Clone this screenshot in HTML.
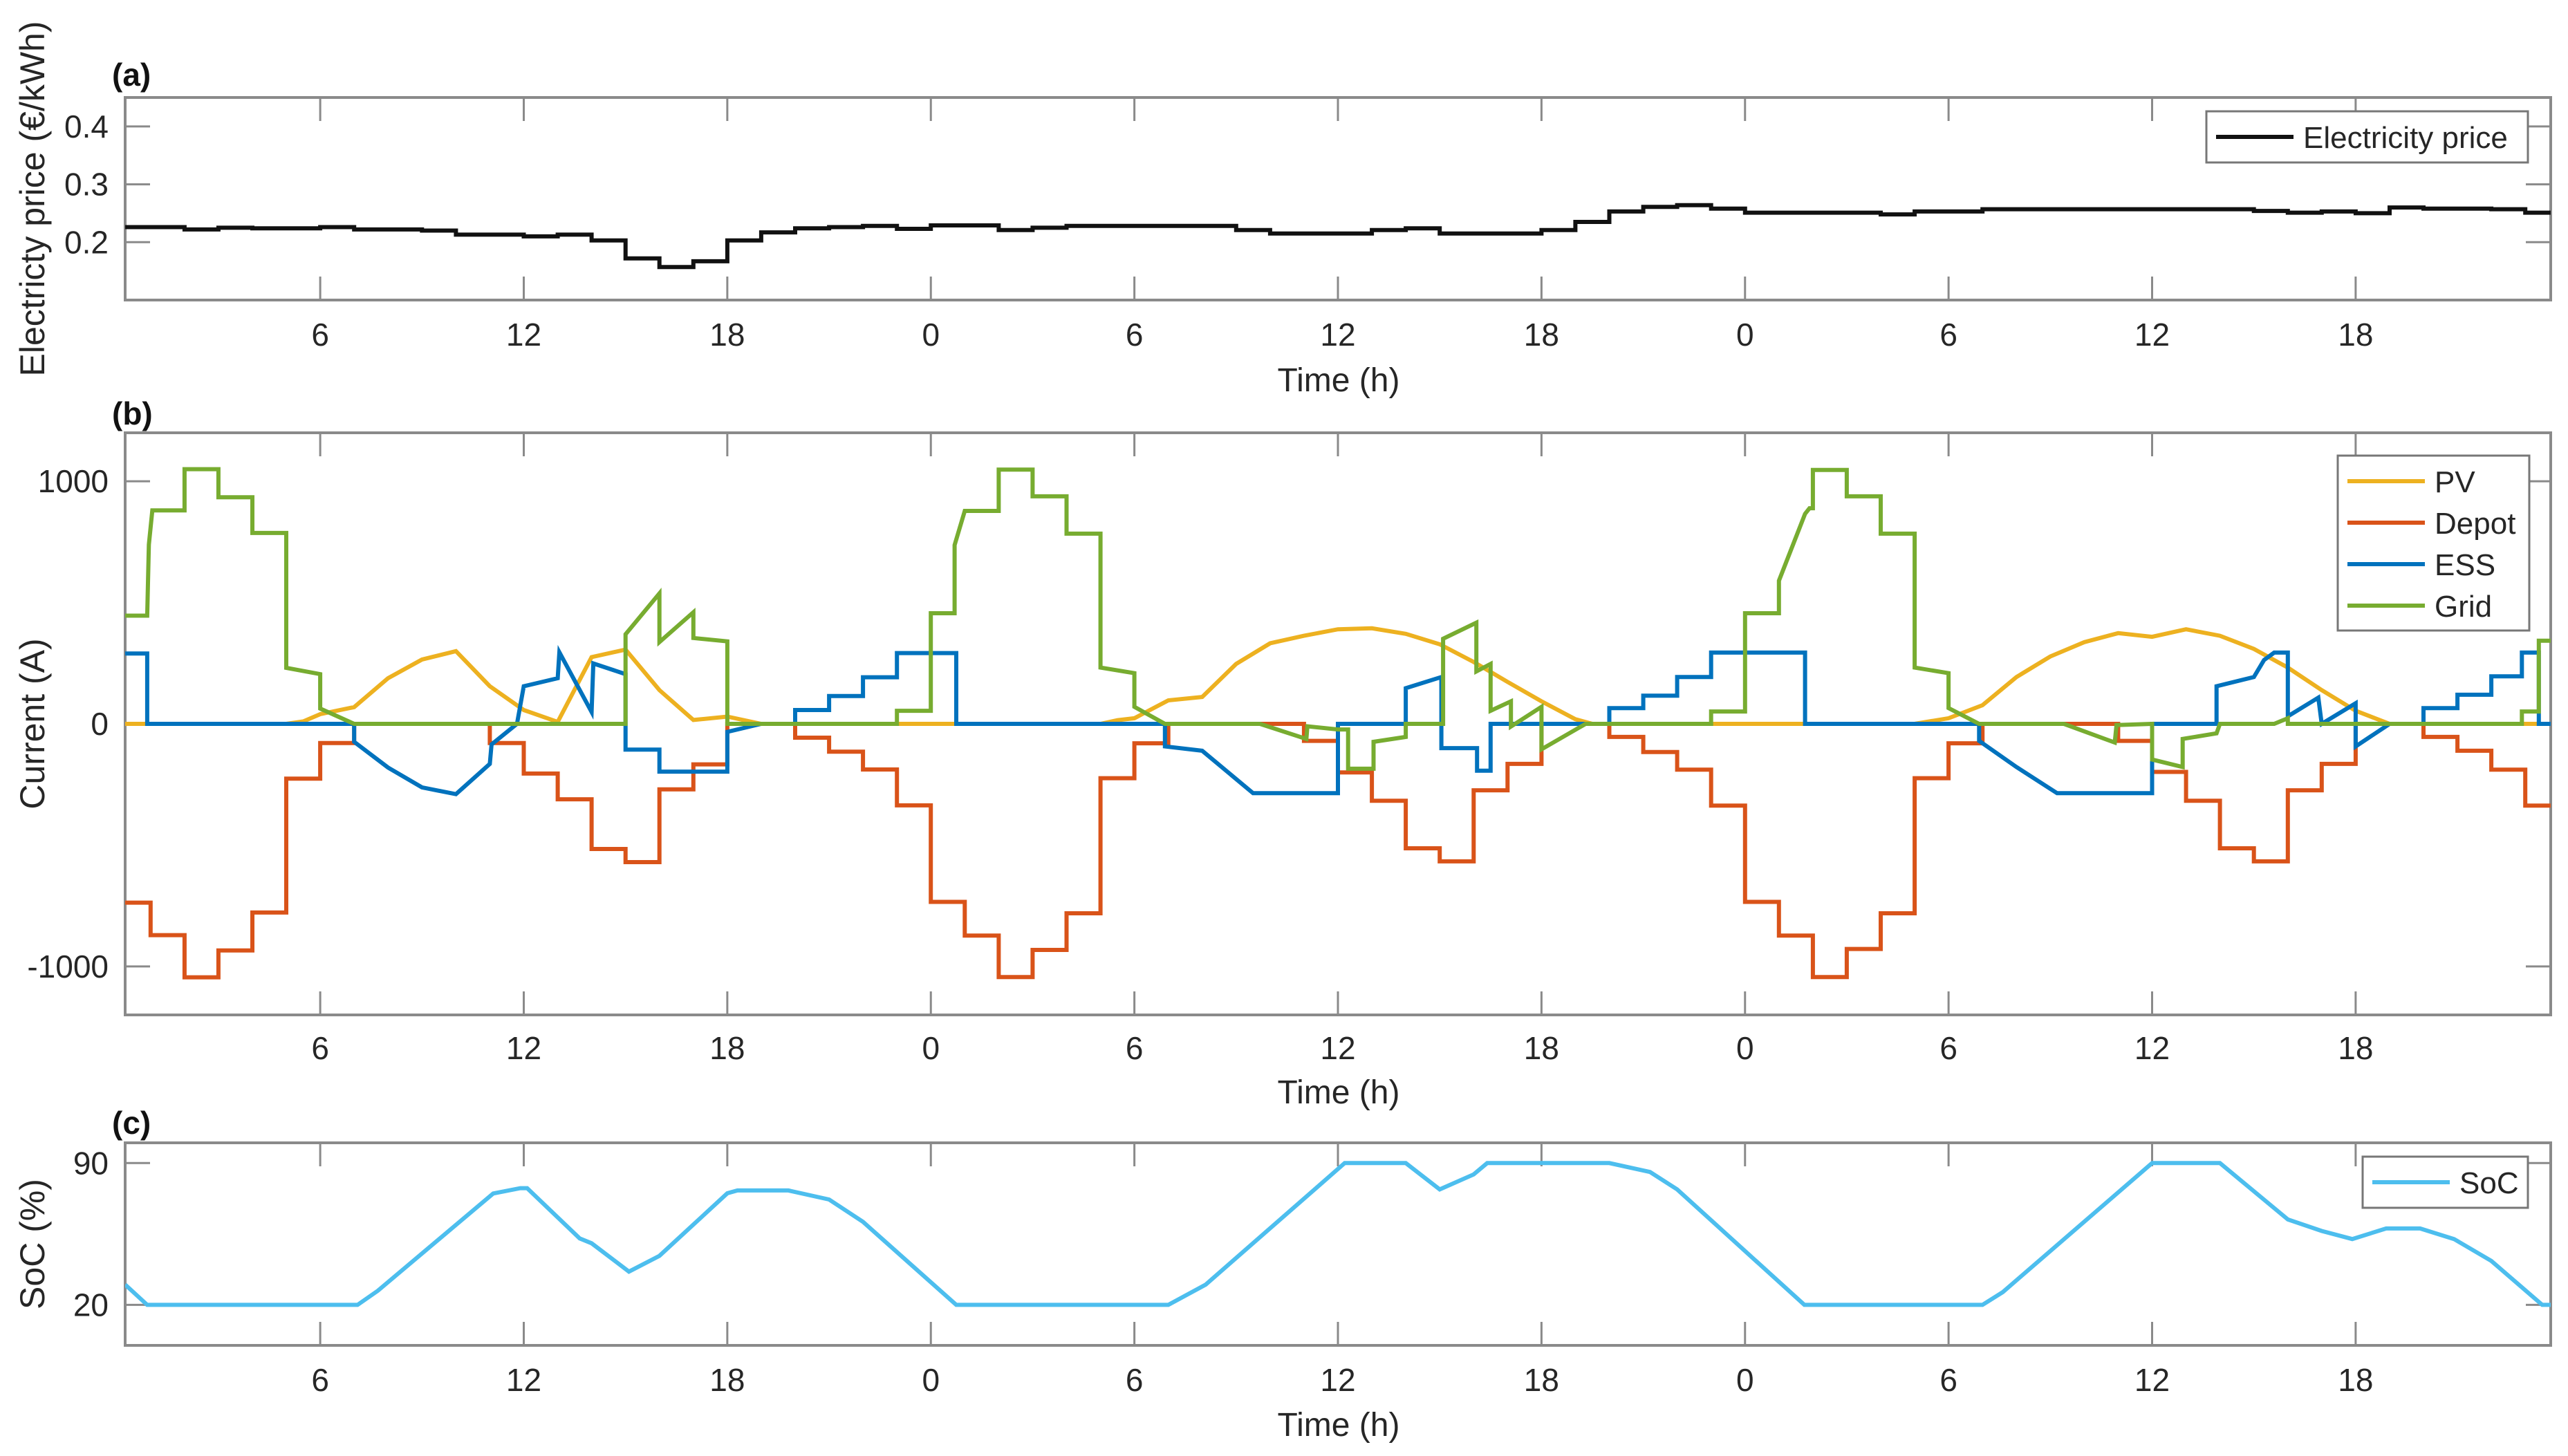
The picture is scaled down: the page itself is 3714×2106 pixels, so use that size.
<!DOCTYPE html>
<html><head><meta charset="utf-8">
<style>
html,body{margin:0;padding:0;background:#fff;}
svg{display:block;font-family:"Liberation Sans",Arial,sans-serif;}
</style></head>
<body>
<svg id="fig" xmlns="http://www.w3.org/2000/svg" width="3714" height="2106" viewBox="0 0 3714 2106"></svg>
<script>
// ---- data ----
const xTickHours = [6,12,18,24,30,36,42,48,54,60,66];
const xTickLabels = ['6','12','18','0','6','12','18','0','6','12','18'];
const priceTicks = [0.2,0.3,0.4];
const currentTicks = [-1000,0,1000];
const socTicks = [20,90];
// hourly electricity price (h0..h71)
const priceValues = [0.226,0.226,0.222,0.225,0.224,0.224,0.226,0.222,0.222,0.220,0.213,0.213,0.210,0.213,0.203,0.172,0.157,0.167,0.203,0.217,0.224,0.226,0.228,0.223,
0.229,0.229,0.221,0.225,0.228,0.228,0.228,0.228,0.228,0.221,0.215,0.215,0.215,0.221,0.224,0.215,0.215,0.215,0.221,0.235,0.253,0.261,0.264,0.258,
0.251,0.251,0.251,0.251,0.248,0.253,0.253,0.257,0.257,0.257,0.257,0.257,0.257,0.257,0.257,0.254,0.251,0.253,0.250,0.260,0.258,0.258,0.257,0.251];
// hourly depot current
const depotValues = [-737,-871,-1045,-934,-778,-226,-79,0,0,0,0,-79,-205,-311,-516,-570,-270,-167,0,0,-57,-115,-188,-336,
-734,-873,-1044,-932,-781,-224,-80,0,0,0,0,-70,-200,-317,-513,-567,-274,-165,0,0,-54,-116,-189,-337,
-734,-873,-1044,-928,-781,-224,-80,0,0,0,0,-70,-198,-317,-513,-567,-274,-165,0,0,-54,-111,-189,-337];
const pvHours = [0.25,5,5.5,6,7,8,9,10,11,12,13,14,15,16,17,18,19,29,29.5,30,31,32,33,34,35,36,37,38,39,40,41,42,43,43.5,53,54,55,56,57,58,59,60,61,62,63,64,65,66,67,71.75];
const pvValues = [0,0,10,40,69,188,265,300,155,57,8,275,306,139,16,30,0,0,15,23,97,111,247,332,363,390,394,371,328,255,173,93,19,0,0,23,77,193,278,337,374,359,390,363,309,232,139,54,0,0];
const essHours = [0.25,0.9,0.9,7,7,8,9,10,11,11.05,11.8,12,13,13.05,14,14.05,15,15,16,16,18,18,19,20,20,21,21,22,22,23,23,24.75,24.75,30.9,30.9,32,33.5,36,36,38,38,39.05,39.05,40.1,40.1,40.5,40.5,44,44,45,45,46,46,47,47,49.77,49.77,54.9,54.9,56,57.2,60,60,61.9,61.9,63,63.3,63.6,64,64,64.9,65,66,66,67,68,68,69,69,70,70,70.9,70.9,71.4,71.4,71.75];
const essValues = [290,290,0,0,-74,-180,-262,-290,-165,-85,0,155,188,295,49,249,205,-106,-106,-197,-197,-33,0,0,57,57,115,115,192,192,292,292,0,0,-93,-111,-286,-286,0,0,147,193,-100,-100,-193,-193,0,0,65,65,116,116,193,193,294,294,0,0,-70,-178,-286,-286,0,0,155,193,263,294,294,31,108,0,85,-93,0,0,65,65,120,120,196,196,294,294,0,0];
const gridHours = [0.25,0.9,0.95,1.05,2,2,3,3,4,4,5,5,6,6,7,15,15,16,16,17,17,18,18,23,23,24,24,24.7,24.7,25,26,26,27,27,28,28,29,29,30,30,30.9,33.7,35.07,35.1,36,36.3,36.3,37.05,37.05,38,38,39.1,39.1,40.08,40.08,40.5,40.5,41.1,41.1,42,42,43.3,47,47,48,48,49,49,49.77,49.9,50,50,51,51,52,52,53,53,54,54,54.9,57.4,58.9,58.95,60,60,60.9,60.9,61.9,62,63.6,64,64,70.9,70.9,71.4,71.4,71.75];
const gridValues = [446,446,739,880,880,1050,1050,934,934,787,787,231,205,63,0,0,369,538,337,460,354,340,0,0,54,54,456,456,737,878,878,1048,1048,938,938,784,784,232,209,70,0,0,-62,-10,-23,-23,-185,-185,-74,-54,0,0,351,417,216,247,54,93,-11,70,-105,0,0,51,51,456,456,590,866,889,889,1047,1047,938,938,784,784,232,209,65,0,0,-77,-5,0,-147,-178,-62,-39,0,0,23,0,0,51,51,343,343];
const socHours = [0.25,0.9,7.1,7.7,11.1,11.9,12.1,13.65,14,15.1,16,18,18.3,19.8,21,22,24.75,31,32.1,36.2,38,39,40,40.4,44,45.2,46,49.75,55,55.6,60,62,64,65,65.9,66.9,67.9,68.9,70,71.5,71.75];
const socValues = [30,20,20,27,75,77.6,77.6,52.8,50.4,36.4,44.2,75.1,76.5,76.5,72,61,20,20,30,90,90,77,84.4,90,90,85.6,77,20,20,26.3,90,90,62.2,56.5,52.5,57.7,57.7,52.5,41.7,20,20];

// ---- layout ----
const NS='http://www.w3.org/2000/svg';
const svg=document.getElementById('fig');
const X0=181,X1=3689,HMIN=0.25,HMAX=71.75;
function xs(h){return X0+(h-HMIN)/(HMAX-HMIN)*(X1-X0);}
function mkY(top,bot,vmin,vmax){return v=>bot-(v-vmin)/(vmax-vmin)*(bot-top);}
const AX='#8a8a8a',TXT='#262626';
function el(tag,attrs,parent){const e=document.createElementNS(NS,tag);for(const k in attrs)e.setAttribute(k,attrs[k]);(parent||svg).appendChild(e);return e;}
function txt(s,x,y,size,anchor,extra){const t=el('text',Object.assign({x:x,y:y,'font-size':size,'text-anchor':anchor||'middle',fill:TXT},extra||{}));t.textContent=s;return t;}

const panels=[
 {id:'a',top:141,bot:434,vmin:0.1,vmax:0.45,ticks:priceTicks,fmt:v=>v.toFixed(1),ylabel:'Electricty price (€/kWh)',plabY:124,tickY:500,timeY:566},
 {id:'b',top:626,bot:1468,vmin:-1200,vmax:1200,ticks:currentTicks,fmt:v=>String(v),ylabel:'Current (A)',plabY:614,tickY:1532,timeY:1596},
 {id:'c',top:1653,bot:1946,vmin:0,vmax:100,ticks:socTicks,fmt:v=>String(v),ylabel:'SoC (%)',plabY:1640,tickY:2012,timeY:2077}
];
panels.forEach(p=>{
  p.ys=mkY(p.top,p.bot,p.vmin,p.vmax);
  const g=el('g',{});
  
  
  p.g=g;
  const cp=el('clipPath',{id:'clip-'+p.id},g);
  el('rect',{x:X0,y:p.top,width:X1-X0,height:p.bot-p.top},cp);
  xTickHours.forEach((h,i)=>{
    const x=xs(h);
    const t1=el('line',{x1:x,x2:x,y1:p.bot,y2:p.bot-34,stroke:AX,'stroke-width':3},g);
    
    
    const t2=el('line',{x1:x,x2:x,y1:p.top,y2:p.top+34,stroke:AX,'stroke-width':3},g);
    
    
    const lb=txt(xTickLabels[i],x,p.tickY,46,'middle');
    
    
  });
  p.ticks.forEach(v=>{
    const y=p.ys(v);
    const t1=el('line',{x1:X0,x2:X0+36,y1:y,y2:y,stroke:AX,'stroke-width':3},g);
    
    
    const t2=el('line',{x1:X1,x2:X1-36,y1:y,y2:y,stroke:AX,'stroke-width':3},g);
    
    
    const lb=txt(p.fmt(v),157,y+16,46,'end');
    
    
  });
  const box=el('rect',{x:X0,y:p.top,width:X1-X0,height:p.bot-p.top,fill:'none',stroke:AX,'stroke-width':4},g);
  
  
  const pl=txt('('+p.id+')',162,p.plabY,46,'start',{'font-weight':'bold',fill:'#111'});
  
  
  const tl=txt('Time (h)',1936,p.timeY,48,'middle');
  
  
  const cy=(p.top+p.bot)/2;
  const yl=txt(p.ylabel,0,0,50,'middle',{transform:'translate(64,'+cy+') rotate(-90)'});
  
  
});

function stepPath(vals,p){
  let d='';
  for(let i=0;i<vals.length;i++){
    const a=Math.max(i,HMIN),b=Math.min(i+1,HMAX);
    const y=p.ys(vals[i]);
    d+=(i===0?'M':'L')+xs(a).toFixed(1)+','+y.toFixed(1)+'L'+xs(b).toFixed(1)+','+y.toFixed(1);
  }
  return d;
}
function linePath(hs,vs,p){
  return hs.map((h,i)=>(i?'L':'M')+xs(h).toFixed(1)+','+p.ys(vs[i]).toFixed(1)).join('');
}
function series(p,d,color,name){
  const path=el('path',{d:d,fill:'none',stroke:color,'stroke-width':6,'stroke-linejoin':'miter','clip-path':'url(#clip-'+p.id+')'},p.g);
  
  
}
const A=panels[0],B=panels[1],C=panels[2];
series(A,stepPath(priceValues,A),'#111111','electricity-price-line');
series(B,linePath(pvHours,pvValues,B),'#EDB120','pv-line');
series(B,stepPath(depotValues,B),'#D95319','depot-line');
series(B,linePath(essHours,essValues,B),'#0072BD','ess-line');
series(B,linePath(gridHours,gridValues,B),'#77AC30','grid-line');
series(C,linePath(socHours,socValues,C),'#4DBEEE','soc-line');

function legend(name,x,y,w,h,items){
  const g=el('g',{});
  
  
  el('rect',{x:x,y:y,width:w,height:h,fill:'#fff',stroke:'#777','stroke-width':3},g);
  items.forEach(it=>{
    const ln=el('line',{x1:x+14,x2:x+126,y1:it.y,y2:it.y,stroke:it.c,'stroke-width':6},g);
    
    
    const t=el('text',{x:x+140,y:it.y+16,'font-size':44,fill:TXT},g);
    t.textContent=it.t;
    
    
  });
}
legend('price-legend',3191,161,465,74,[{y:198,c:'#111111',t:'Electricity price'}]);
legend('current-legend',3381,659,277,253,[{y:696,c:'#EDB120',t:'PV'},{y:756,c:'#D95319',t:'Depot'},{y:816,c:'#0072BD',t:'ESS'},{y:876,c:'#77AC30',t:'Grid'}]);
legend('soc-legend',3417,1673,239,74,[{y:1710,c:'#4DBEEE',t:'SoC'}]);
</script>
</body></html>
